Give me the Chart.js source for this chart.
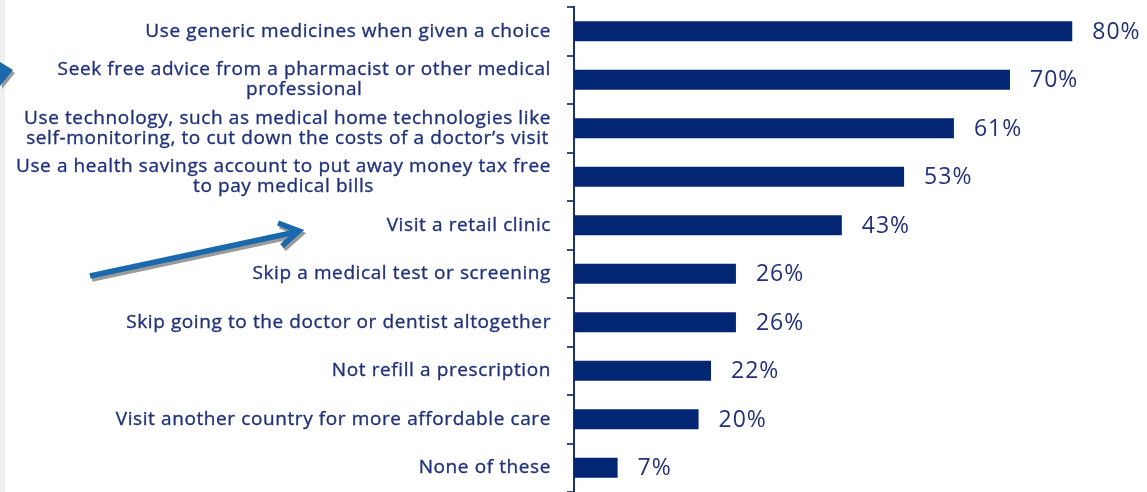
<!DOCTYPE html>
<html>
<head>
<meta charset="utf-8">
<script src="https://cdn.jsdelivr.net/npm/chart.js@4.4.1/dist/chart.umd.min.js"></script>
<style>
  html, body { margin: 0; padding: 0; background: #ffffff; overflow: hidden; }
  #wrap { position: relative; width: 1147px; height: 492px; }
  #strip { position: absolute; left: 0; top: 0; width: 5px; height: 492px; background: #f0f0f0; }
  canvas { position: absolute; left: 0; top: 0; }
</style>
</head>
<body>
<div id="wrap">
  <div id="strip"></div>
  <canvas id="chart" width="1147" height="492"></canvas>
</div>
<script>
// Survey answers, top to bottom
const answers = [
    ['Use generic medicines when given a choice'],
    ['Seek free advice from a pharmacist or other medical', 'professional'],
    ['Use technology, such as medical home technologies like', 'self-monitoring, to cut down the costs of a doctor\u2019s visit'],
    ['Use a health savings account to put away money tax free', 'to pay medical bills'],
    ['Visit a retail clinic'],
    ['Skip a medical test or screening'],
    ['Skip going to the doctor or dentist altogether'],
    ['Not refill a prescription'],
    ['Visit another country for more affordable care'],
    ['None of these']
];
const shares = [80, 70, 61, 53, 43, 26, 26, 22, 20, 7];

const NAVY = '#022673';
const TEXT = '#21317a';
const LABEL_FONT = '19px "Open Sans", sans-serif';
const VALUE_FONT = '23px "Open Sans", sans-serif';

// category labels: right-aligned block, lines centred within the block
const answerLabels = {
    id: 'answerLabels',
    afterDraw(chart) {
        const ctx = chart.ctx;
        const y = chart.scales.y;
        const rightEdge = 551;
        const lh = 20;
        ctx.save();
        ctx.font = LABEL_FONT;
        ctx.letterSpacing = '0.6px';
        ctx.fillStyle = TEXT;
        ctx.strokeStyle = TEXT;
        ctx.lineWidth = 0.35;
        ctx.textAlign = 'center';
        ctx.textBaseline = 'middle';
        answers.forEach((lines, i) => {
            const mid = y.getPixelForValue(i);
            const w = Math.max(...lines.map(l => ctx.measureText(l).width));
            const cx = rightEdge - w / 2;
            const top = mid - (lines.length - 1) * lh / 2;
            lines.forEach((l, j) => {
                ctx.fillText(l, cx, top + j * lh);
                ctx.strokeText(l, cx, top + j * lh);
            });
        });
        ctx.restore();
    }
};

// percentage next to each bar
const valueLabels = {
    id: 'valueLabels',
    afterDatasetsDraw(chart) {
        const ctx = chart.ctx;
        const meta = chart.getDatasetMeta(0);
        ctx.save();
        ctx.font = VALUE_FONT;
        ctx.letterSpacing = '1px';
        ctx.fillStyle = TEXT;
        ctx.textAlign = 'left';
        ctx.textBaseline = 'middle';
        meta.data.forEach((bar, i) => {
            ctx.fillText(shares[i] + '%', bar.x + 20, bar.y + 1);
        });
        ctx.restore();
    }
};

// the two blue pointer arrows with their grey drop shadows
const arrows = {
    id: 'arrows',
    afterDraw(chart) {
        const ctx = chart.ctx;
        const draw = (dx, dy, color) => {
            ctx.save();
            ctx.translate(dx, dy);
            ctx.strokeStyle = color;
            ctx.fillStyle = color;
            ctx.lineWidth = 5.5;
            ctx.lineCap = 'butt';
            ctx.lineJoin = 'miter';
            // long arrow
            ctx.beginPath();
            ctx.moveTo(90, 276);
            ctx.lineTo(296, 232);
            ctx.stroke();
            ctx.beginPath();
            ctx.moveTo(278, 223);
            ctx.lineTo(299, 231);
            ctx.lineTo(282, 246);
            ctx.stroke();
            // arrow head at the left edge
            ctx.beginPath();
            ctx.moveTo(0, 62);
            ctx.lineTo(13, 70);
            ctx.lineTo(0, 86);
            ctx.closePath();
            ctx.fill();
            ctx.restore();
        };
        draw(2, 3, '#9a9a9a');
        draw(0, 0, '#1a69ad');
    }
};

new Chart(document.getElementById('chart'), {
    type: 'bar',
    data: {
        labels: answers,
        datasets: [{
            data: shares,
            backgroundColor: NAVY,
            barPercentage: 0.82,
            categoryPercentage: 0.5
        }]
    },
    options: {
        indexAxis: 'y',
        responsive: false,
        devicePixelRatio: 1,
        animation: false,
        layout: { padding: { top: 7, right: 0, bottom: 0, left: 0 } },
        plugins: { legend: { display: false }, tooltip: { enabled: false } },
        scales: {
            x: { display: false, min: 0, max: 92 },
            y: {
                afterFit(scale) { scale.width = 574; },
                ticks: { display: false },
                grid: {
                    drawOnChartArea: false,
                    drawTicks: true,
                    tickLength: 7,
                    color: '#3b4a85',
                    lineWidth: 2
                },
                border: { display: true, color: '#1c2f78', width: 2 }
            }
        }
    },
    plugins: [valueLabels, answerLabels, arrows]
});
</script>
</body>
</html>
